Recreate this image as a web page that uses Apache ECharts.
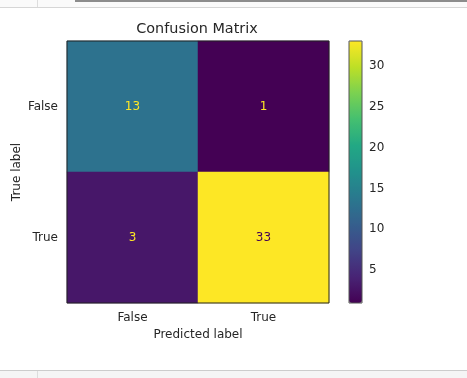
<!DOCTYPE html>
<html>
<head>
<meta charset="utf-8">
<script src="https://cdn.jsdelivr.net/npm/echarts@6/dist/echarts.min.js"></script>
<style>
  html, body { margin: 0; padding: 0; background: #fff; }
  #chart { width: 467px; height: 378px; }
</style>
</head>
<body>
<div id="chart"></div>
<script>
// labels for both axes
const predicted = ["False", "True"];
const actual = ["False", "True"];
// confusion counts, rows = true label, cols = predicted label
const counts = [
    [13, 1],
    [3, 33]
];
const colorbarTicks = [5, 10, 15, 20, 25, 30];

const viridis = ["#440154", "#482475", "#414487", "#355f8d", "#2a788e", "#21918c",
    "#22a884", "#44bf70", "#7ad151", "#bddf26", "#fde725"];

const flat = counts.flat();
const vmin = Math.min(...flat);
const vmax = Math.max(...flat);
const mid = (vmin + vmax) / 2;

// [x, y, value] for the heatmap, text colour like matplotlib does it
const cells = [];
counts.forEach((row, i) => {
    row.forEach((v, j) => {
        cells.push({
            value: [j, i, v],
            label: { color: v < mid ? viridis[viridis.length - 1] : viridis[0] }
        });
    });
});

const chart = echarts.init(document.getElementById("chart"));
const font = "DejaVu Sans";
const ink = "#262626";

chart.setOption({
    animation: false,
    title: {
        text: "Confusion Matrix",
        left: 192, top: 17, textAlign: "center",
        textStyle: { fontFamily: font, fontSize: 14.4, fontWeight: "normal", color: ink }
    },
    grid: [
        { left: 67, top: 41, width: 262, height: 262, show: true, borderColor: "#222", borderWidth: 1,
          backgroundColor: "transparent", z: 5, outerBoundsMode: "none", containLabel: false },
        { left: 349, top: 41, width: 13, height: 262, show: true, borderColor: "#555", borderWidth: 1,
          backgroundColor: "transparent", z: 10, outerBoundsMode: "none", containLabel: false }
    ],
    xAxis: [
        {
            type: "category", data: predicted, gridIndex: 0,
            name: "Predicted label", nameLocation: "middle", nameGap: 26, nameMoveOverlap: false,
            nameTextStyle: { fontFamily: font, fontSize: 12, color: ink },
            axisLine: { show: false },
            axisTick: { alignWithLabel: true, length: 4, lineStyle: { color: "#222" } },
            axisLabel: { fontFamily: font, fontSize: 12, color: ink, margin: 9 },
            splitLine: { show: false }
        },
        { type: "value", gridIndex: 1, show: false, min: 0, max: 1 }
    ],
    yAxis: [
        {
            type: "category", data: actual, gridIndex: 0, inverse: true,
            name: "True label", nameLocation: "middle", nameGap: 44, nameMoveOverlap: false,
            nameTextStyle: { fontFamily: font, fontSize: 12, color: ink },
            axisLine: { show: false },
            axisTick: { alignWithLabel: true, length: 4, lineStyle: { color: "#222" } },
            axisLabel: { fontFamily: font, fontSize: 12, color: ink, margin: 9 },
            splitLine: { show: false }
        },
        {
            type: "value", gridIndex: 1, min: vmin, max: vmax, position: "right",
            axisLine: { show: false },
            axisTick: { show: true, length: 4, customValues: colorbarTicks, lineStyle: { color: "#222" } },
            axisLabel: { fontFamily: font, fontSize: 12, color: ink, margin: 7, customValues: colorbarTicks },
            splitLine: { show: false }
        }
    ],
    visualMap: {
        type: "continuous", min: vmin, max: vmax, seriesIndex: 0,
        calculable: false, left: 349, top: 41, itemWidth: 13, itemHeight: 262,
        padding: 0, inRange: { color: viridis }, textStyle: { fontSize: 0 }
    },
    graphic: [
        // notebook frame bits around the figure
        { type: "rect", shape: { x: 0, y: 0, width: 467, height: 7 }, style: { fill: "#fafafa" } },
        { type: "rect", shape: { x: 0, y: 7, width: 467, height: 1 }, style: { fill: "#d6d6d6" } },
        { type: "rect", shape: { x: 37, y: 0, width: 1, height: 7 }, style: { fill: "#dddddd" } },
        { type: "rect", shape: { x: 75, y: 0, width: 392, height: 2 }, style: { fill: "#8c8c8c" } },
        { type: "rect", shape: { x: 0, y: 370, width: 467, height: 8 }, style: { fill: "#f5f5f5" } },
        { type: "rect", shape: { x: 0, y: 370, width: 467, height: 1 }, style: { fill: "#cccccc" } },
        { type: "rect", shape: { x: 37, y: 371, width: 1, height: 7 }, style: { fill: "#dddddd" } }
    ],
    series: [
        {
            type: "heatmap", xAxisIndex: 0, yAxisIndex: 0,
            data: cells,
            label: { show: true, fontFamily: font, fontSize: 12 },
            itemStyle: { borderWidth: 0 },
            emphasis: { disabled: true }
        }
    ]
});
</script>
</body>
</html>
